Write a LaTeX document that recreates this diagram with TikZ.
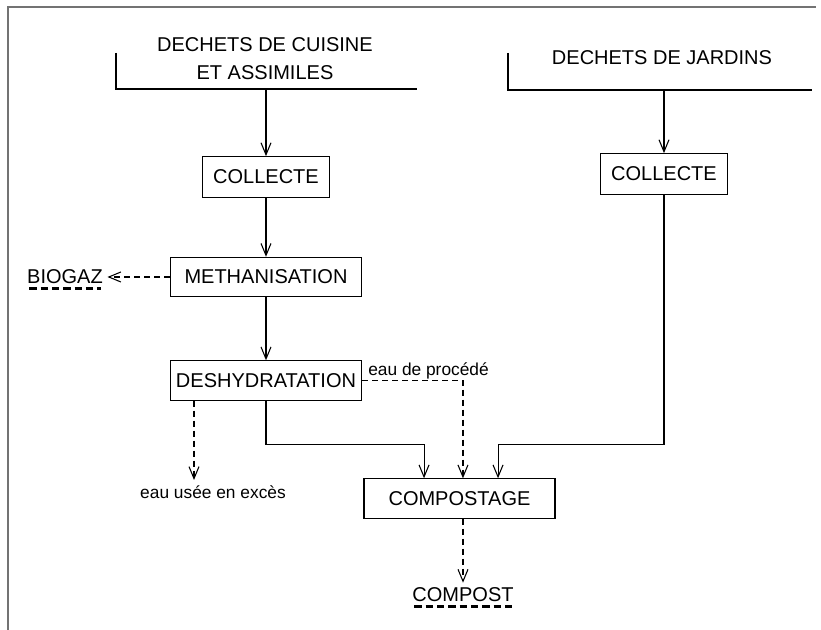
\documentclass[tikz,border=0pt]{standalone}
\usepackage{fontspec}
\setmainfont{Liberation Sans}
\usetikzlibrary{arrows.meta, calc}

\begin{document}
\begin{tikzpicture}[
  x=0.75pt, y=0.75pt,
  font=\fontsize{15}{21}\selectfont,
  >={Straight Barb[length=9pt,width=7.5pt]},
  % -- process boxes
  etape/.style={draw, line width=0.8pt, inner sep=1pt, align=center,
    minimum height=29.5pt},
  large/.style={etape, minimum width=143.25pt},
  court/.style={etape, minimum width=95pt, minimum height=30.5pt},
  % -- connectors
  arr/.style ={->, line width=0.8pt},
  darr/.style={->, line width=0.8pt, dash pattern=on 4.5pt off 3pt},
  crochet/.style={line width=0.8pt},
  souligne/.style={line width=2pt, dash pattern=on 5.5pt off 3pt},
  % -- small labels
  petit/.style={font=\fontsize{13}{15}\selectfont},
]
\useasboundingbox (0,0) rectangle (821,630);

% frame
\draw[line width=1.4pt, black!55] (8,0) -- (8,623) -- (816,623);

%% sources
\node[align=center] (cuisine) at (265,571) {DECHETS DE CUISINE\\ET ASSIMILES};
\draw[crochet] (116,577) -- (116,541) -- (417,541);
\coordinate (cuisine pied) at (266,541);

\node (jardin) at (662,572) {DECHETS DE JARDINS};
\draw[crochet] (508,577) -- (508,540) -- (812,540);
\coordinate (jardin pied) at (664,540);

%% process chain
\node[court] (collecte1) at (266,453) {COLLECTE};
\node[court] (collecte2) at (664,456) {COLLECTE};
\node[large] (metha) at (266,353) {METHANISATION};
\node[large] (deshy) at (266,249.5) {DESHYDRATATION};
\node[large] (compostage) at (459.5,131.5) {COMPOSTAGE};

%% products
\node (biogaz) at (65,353) {BIOGAZ};
\draw[souligne] ([xshift=5pt]biogaz.south west) -- ([xshift=-5pt]biogaz.south east);

\node (compost) at (463,35.5) {COMPOST};
\draw[souligne] ([xshift=5pt]compost.south west) -- ([xshift=-5pt]compost.south east);

% main arrows
\draw[arr] (cuisine pied) -- (collecte1);
\draw[arr] (jardin pied) -- (collecte2);
\draw[arr] (collecte1) -- (metha);
\draw[arr] (metha) -- (deshy);

% junction above the composting box
\coordinate (jonction) at ($(compostage.north)+(0,34)$);
\draw[arr] (deshy.south) |- ([xshift=-26.6pt]jonction) -- ([xshift=-26.6pt]compostage.north);
\draw[arr] (collecte2.south) |- ([xshift=28.9pt]jonction) -- ([xshift=28.9pt]compostage.north);

% by-products (dashed)
\draw[darr] (metha) -- (biogaz);
\draw[darr] (deshy.east) -| ([xshift=2.6pt]compostage.north);
\node[petit, anchor=base west, inner sep=0pt] (procede) at ($(deshy.east)+(6,4.5)$) {eau de procédé};

\coordinate (exces) at (194,150);
\draw[darr] (deshy.south -| exces) -- (exces);
\node[petit, anchor=base, inner sep=0pt] (usee) at (213,131) {eau usée en excès};

\draw[darr] (compostage.south -| compost) -- (compost);

\end{tikzpicture}
\end{document}
